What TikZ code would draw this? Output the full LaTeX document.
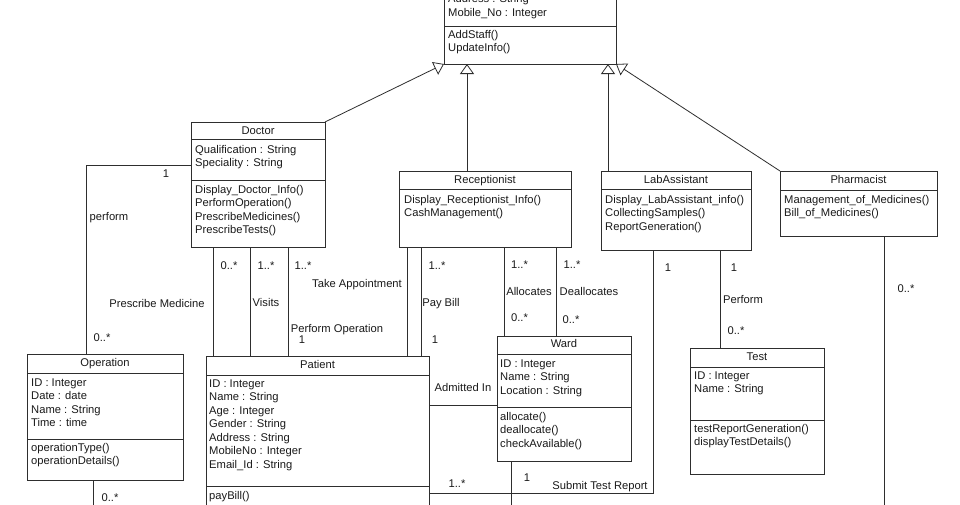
\documentclass[tikz,border=0pt]{standalone}
\usepackage{fontspec}
\setmainfont{Liberation Sans}
\usetikzlibrary{arrows.meta,calc}
\definecolor{lc}{HTML}{2E2E2E}
\definecolor{tc}{HTML}{1A1A1A}
\newcommand\umlfont{\fontsize{11.2}{13.5}\selectfont}
\tikzset{
 cls/.style={draw=lc, line width=0.8pt, fill=white, anchor=north west, inner sep=0pt, outer sep=0pt},
 txt/.style={anchor=base west, inner sep=0pt, font=\umlfont, text=tc},
 ttl/.style={anchor=base, inner sep=0pt, font=\umlfont, text=tc},
 lab/.style={anchor=base, inner sep=0pt, font=\umlfont, text=tc},
 conn/.style={draw=lc, line width=0.8pt},
 gen/.style={conn, -{Triangle[open, length=10pt, width=14pt]}},
 divl/.style={draw=lc, line width=0.8pt},
}
\newcommand\cltext[4]{\foreach \t [count=\i from 0] in {#4} {\node[txt] (#1\i) at (#2, {#3+\i*13.5}) {\t};}}
\begin{document}
\begin{tikzpicture}[x=1pt,y=-1pt]
\useasboundingbox (0,0) rectangle (960,504);
\clip (0,0) rectangle (960,504);
\fill[white] (0,0) rectangle (960,504);

% ---------- Staff (top, cut off) ----------
\node[cls, minimum width=172pt, minimum height=110pt] (staff) at (444,-46) {};
\draw[divl] (staff.south west) ++(0,-37.3) -- ++(172,0);
\cltext{staffa}{448}{2.5}{Address : String, Mobile\_No : Integer}
\cltext{staffm}{448}{38}{AddStaff(), UpdateInfo()}

% ---------- Doctor ----------
\node[cls, minimum width=134pt, minimum height=125pt] (doctor) at (191,122) {};
\draw[divl] (doctor.north west) ++(0,17) -- ++(134,0);
\draw[divl] (doctor.north west) ++(0,58) -- ++(134,0);
\node[ttl] (doctort) at (258,134) {Doctor};
\cltext{doctora}{195}{153}{Qualification : String, Speciality : String}
\cltext{doctorm}{195}{193}{Display\_Doctor\_Info(), PerformOperation(), PrescribeMedicines(), PrescribeTests()}

% ---------- Receptionist ----------
\node[cls, minimum width=172pt, minimum height=76pt] (recep) at (399,171) {};
\draw[divl] (recep.north west) ++(0,18) -- ++(172,0);
\node[ttl] (recept) at (485,183) {Receptionist};
\cltext{recepm}{404}{203}{Display\_Receptionist\_Info(), CashManagement()}

% ---------- LabAssistant ----------
\node[cls, minimum width=150pt, minimum height=79pt] (lab) at (601,171) {};
\draw[divl] (lab.north west) ++(0,18) -- ++(150,0);
\node[ttl] (labt) at (676,183) {LabAssistant};
\cltext{labm}{605}{203}{Display\_LabAssistant\_info(), CollectingSamples(), ReportGeneration()}

% ---------- Pharmacist ----------
\node[cls, minimum width=157pt, minimum height=65pt] (pharm) at (780,171) {};
\draw[divl] (pharm.north west) ++(0,19) -- ++(157,0);
\node[ttl] (pharmt) at (858.5,183) {Pharmacist};
\cltext{pharmm}{784}{203}{Management\_of\_Medicines(), Bill\_of\_Medicines()}

% ---------- Operation ----------
\node[cls, minimum width=156pt, minimum height=126pt] (oper) at (27,354) {};
\draw[divl] (oper.north west) ++(0,19) -- ++(156,0);
\draw[divl] (oper.north west) ++(0,85) -- ++(156,0);
\node[ttl] (opert) at (105,366) {Operation};
\cltext{opera}{31}{386}{ID : Integer, Date : date, Name : String, Time : time}
\cltext{operm}{31}{451}{operationType(), operationDetails()}

% ---------- Patient ----------
\node[cls, minimum width=223pt, minimum height=200pt] (patient) at (206,356) {};
\draw[divl] (patient.north west) ++(0,19) -- ++(223,0);
\draw[divl] (patient.north west) ++(0,130) -- ++(223,0);
\node[ttl] (patientt) at (317.5,368) {Patient};
\cltext{patienta}{209}{387}{ID : Integer, Name : String, Age : Integer, Gender : String, Address : String, MobileNo : Integer, Email\_Id : String}
\cltext{patientm}{209}{499}{payBill()}

% ---------- Ward ----------
\node[cls, minimum width=134pt, minimum height=125pt] (ward) at (497,336) {};
\draw[divl] (ward.north west) ++(0,18) -- ++(134,0);
\draw[divl] (ward.north west) ++(0,71) -- ++(134,0);
\node[ttl] (wardt) at (564,347) {Ward};
\cltext{warda}{500}{367}{ID : Integer, Name : String, Location : String}
\cltext{wardm}{500}{420}{allocate(), deallocate(), checkAvailable()}

% ---------- Test ----------
\node[cls, minimum width=134pt, minimum height=126pt] (test) at (690,348) {};
\draw[divl] (test.north west) ++(0,19) -- ++(134,0);
\draw[divl] (test.north west) ++(0,72) -- ++(134,0);
\node[ttl] (testt) at (757,360) {Test};
\cltext{testa}{694}{379}{ID : Integer, Name : String}
\cltext{testm}{694}{432}{testReportGeneration(), displayTestDetails()}

% ---------- Generalizations ----------
\draw[gen] (doctor.north east) -- (staff.south west);
\draw[gen] (recep.north west) ++(68,0) coordinate (r0) -- (r0 |- staff.south);
\draw[gen] (lab.north west) ++(7,0) coordinate (l0) -- (l0 |- staff.south);
\draw[gen] (pharm.north west) -- (staff.south east);

% ---------- Associations ----------
% Doctor - Operation (perform)
\coordinate (d1) at ($(doctor.north west)+(0,43)$);
\coordinate (o1) at ($(oper.north west)+(59,0)$);
\draw[conn] (d1) -- (d1 -| o1) -- (o1);
% Doctor - Patient
\draw[conn] (doctor.south west) ++(22,0) coordinate (dp1) -- (dp1 |- patient.north);
\draw[conn] (doctor.south west) ++(59,0) coordinate (dp2) -- (dp2 |- patient.north);
\draw[conn] (doctor.south west) ++(97,0) coordinate (dp3) -- (dp3 |- patient.north);
% Receptionist - Patient
\draw[conn] (recep.south west) ++(8,0) coordinate (rp1) -- (rp1 |- patient.north);
\draw[conn] (recep.south west) ++(22,0) coordinate (rp2) -- (rp2 |- patient.north);
% Receptionist - Ward
\draw[conn] (recep.south west) ++(105,0) coordinate (rw1) -- (rw1 |- ward.north);
\draw[conn] (recep.south west) ++(157,0) coordinate (rw2) -- (rw2 |- ward.north);
% Patient - Ward (Admitted In)
\draw[conn] (patient.north east) ++(0,49) coordinate (pw) -- (pw -| ward.west);
% LabAssistant - Patient (Submit Test Report)
\draw[conn] (lab.south west) ++(52,0) coordinate (ls1) -- ++(0,243) coordinate (ls2) -- (ls2 -| patient.east);
% LabAssistant - Test
\draw[conn] (lab.south west) ++(119,0) coordinate (lt) -- (lt |- test.north);
% free ends (continue beyond the picture)
\draw[conn] (ward.south west) ++(14,0) coordinate (w1) -- ++(0,60) coordinate (w2);
\draw[conn] (pharm.south west) ++(104,0) coordinate (ph1) -- ++(0,300) coordinate (ph2);
\draw[conn] (oper.south west) ++(66,0) coordinate (op1) -- ++(0,40) coordinate (op2);

% ---------- Labels ----------
\node[lab] (m1) at (166,177) {1};
\node[lab] (m2) at (109,220) {perform};
\node[lab] (m3) at (157,307) {Prescribe Medicine};
\node[lab] (m4) at (102,341) {0..*};
\node[lab] (m5) at (110,501) {0..*};
\node[lab] (m6) at (229,269) {0..*};
\node[lab] (m7) at (266,269) {1..*};
\node[lab] (m8) at (303,269) {1..*};
\node[lab] (m9) at (357,287) {Take Appointment};
\node[lab] (m10) at (266,306) {Visits};
\node[lab] (m11) at (337,332) {Perform Operation};
\node[lab] (m12) at (302,343) {1};
\node[lab] (m13) at (437,269) {1..*};
\node[lab] (m14) at (441,306) {Pay Bill};
\node[lab] (m15) at (435,343) {1};
\node[lab] (m16) at (519.5,268) {1..*};
\node[lab] (m17) at (572,268) {1..*};
\node[lab] (m18) at (529,295) {Allocates};
\node[lab] (m19) at (589,295) {Deallocates};
\node[lab] (m20) at (519.5,321) {0..*};
\node[lab] (m21) at (571,323) {0..*};
\node[lab] (m22) at (668,271) {1};
\node[lab] (m23) at (734,271) {1};
\node[lab] (m24) at (743,303) {Perform};
\node[lab] (m25) at (736,334) {0..*};
\node[lab] (m26) at (906,292) {0..*};
\node[lab] (m27) at (463,391) {Admitted In};
\node[lab] (m28) at (457,487) {1..*};
\node[lab] (m29) at (527,481) {1};
\node[lab] (m30) at (600,489) {Submit Test Report};
\end{tikzpicture}
\end{document}
